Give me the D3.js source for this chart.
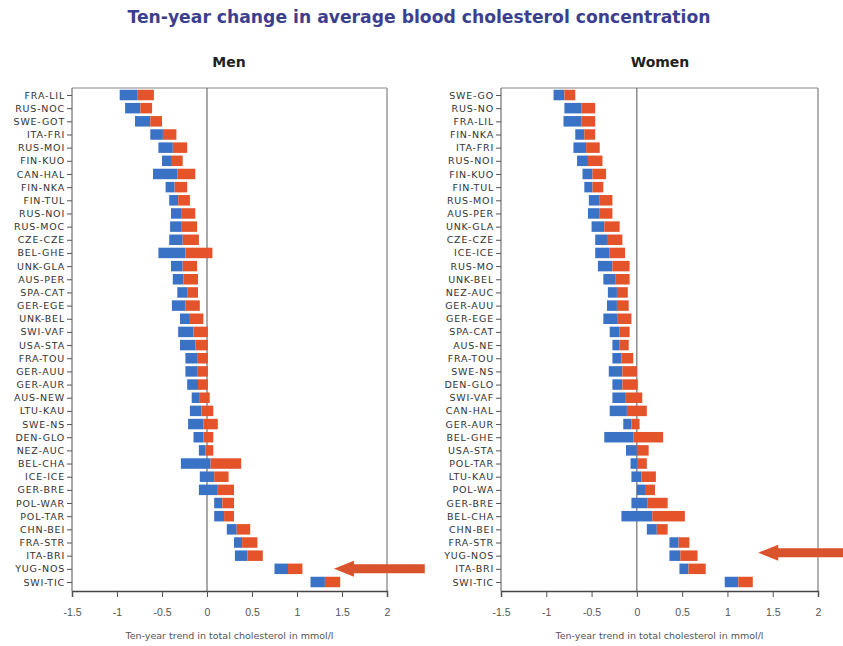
<!DOCTYPE html>
<html><head><meta charset="utf-8">
<script src="https://cdn.jsdelivr.net/npm/d3@7"></script>
<style>body{margin:0;background:#fff;font-family:"Liberation Sans",Arial,sans-serif}</style>
</head><body><svg id="c" width="843" height="646"></svg>
<script>
// Men: populations, lower bound, estimate, upper bound (mmol/l per 10 years)
const menPops = ["FRA-LIL","RUS-NOC","SWE-GOT","ITA-FRI","RUS-MOI","FIN-KUO","CAN-HAL","FIN-NKA","FIN-TUL","RUS-NOI","RUS-MOC","CZE-CZE","BEL-GHE","UNK-GLA","AUS-PER","SPA-CAT","GER-EGE","UNK-BEL","SWI-VAF","USA-STA","FRA-TOU","GER-AUU","GER-AUR","AUS-NEW","LTU-KAU","SWE-NS","DEN-GLO","NEZ-AUC","BEL-CHA","ICE-ICE","GER-BRE","POL-WAR","POL-TAR","CHN-BEI","FRA-STR","ITA-BRI","YUG-NOS","SWI-TIC"];
const menLow  = [-0.97,-0.91,-0.80,-0.63,-0.54,-0.50,-0.60,-0.46,-0.42,-0.40,-0.41,-0.42,-0.54,-0.40,-0.38,-0.33,-0.39,-0.30,-0.32,-0.30,-0.24,-0.24,-0.22,-0.17,-0.19,-0.21,-0.15,-0.09,-0.29,-0.08,-0.09,0.08,0.08,0.22,0.30,0.31,0.75,1.15];
const menEst  = [-0.77,-0.74,-0.63,-0.49,-0.38,-0.39,-0.33,-0.36,-0.32,-0.28,-0.28,-0.27,-0.24,-0.27,-0.26,-0.22,-0.24,-0.19,-0.15,-0.13,-0.11,-0.11,-0.10,-0.08,-0.06,-0.04,-0.04,-0.02,0.04,0.08,0.12,0.17,0.19,0.33,0.39,0.45,0.90,1.31];
const menHigh = [-0.59,-0.61,-0.50,-0.34,-0.22,-0.27,-0.13,-0.22,-0.19,-0.13,-0.11,-0.09,0.06,-0.11,-0.10,-0.10,-0.08,-0.04,0.01,0.01,0.01,0.01,0.01,0.03,0.07,0.12,0.07,0.07,0.38,0.24,0.30,0.30,0.30,0.48,0.56,0.62,1.06,1.48];

// Women
const womenPops = ["SWE-GO","RUS-NO","FRA-LIL","FIN-NKA","ITA-FRI","RUS-NOI","FIN-KUO","FIN-TUL","RUS-MOI","AUS-PER","UNK-GLA","CZE-CZE","ICE-ICE","RUS-MO","UNK-BEL","NEZ-AUC","GER-AUU","GER-EGE","SPA-CAT","AUS-NE","FRA-TOU","SWE-NS","DEN-GLO","SWI-VAF","CAN-HAL","GER-AUR","BEL-GHE","USA-STA","POL-TAR","LTU-KAU","POL-WA","GER-BRE","BEL-CHA","CHN-BEI","FRA-STR","YUG-NOS","ITA-BRI","SWI-TIC"];
const womenLow  = [-0.92,-0.80,-0.81,-0.68,-0.70,-0.66,-0.60,-0.58,-0.53,-0.54,-0.50,-0.46,-0.46,-0.43,-0.37,-0.32,-0.33,-0.37,-0.30,-0.27,-0.27,-0.31,-0.27,-0.27,-0.30,-0.15,-0.36,-0.12,-0.07,-0.06,0.00,-0.06,-0.17,0.11,0.36,0.36,0.47,0.97];
const womenEst  = [-0.80,-0.61,-0.61,-0.58,-0.56,-0.54,-0.49,-0.49,-0.41,-0.41,-0.36,-0.33,-0.30,-0.27,-0.24,-0.22,-0.22,-0.21,-0.19,-0.19,-0.17,-0.16,-0.16,-0.13,-0.11,-0.06,-0.04,0.00,0.01,0.05,0.09,0.12,0.17,0.22,0.46,0.48,0.57,1.12];
const womenHigh = [-0.68,-0.46,-0.46,-0.46,-0.41,-0.38,-0.34,-0.37,-0.27,-0.27,-0.19,-0.16,-0.13,-0.08,-0.08,-0.10,-0.09,-0.06,-0.08,-0.09,-0.04,0.00,0.01,0.06,0.11,0.03,0.29,0.13,0.11,0.21,0.20,0.34,0.53,0.34,0.58,0.67,0.76,1.28];

const xTicks = [-1.5,-1,-0.5,0,0.5,1,1.5,2];
const xTickLabels = ["-1.5","-1","-0.5","0","0.5","1","1.5","2"];
const titleText = "Ten-year change in average blood cholesterol concentration";
const xTitle = "Ten-year trend in total cholesterol in mmol/l";
// highlighted population (arrow annotation): from / to values on the x axis
const menArrow = {pop:"YUG-NOS", from:2.42, to:1.41};
const womenArrow = {pop:"YUG-NOS", from:2.35, to:1.34};

const BLUE = "#3a72c6", ORANGE = "#e4532a", ARROW = "#d9542c";
const svg = d3.select("#c");

svg.append("text").attr("x",419).attr("y",23).attr("text-anchor","middle")
  .attr("font-family","DejaVu Sans").attr("font-size",17.2).attr("font-weight","bold")
  .attr("fill","#3c3f8e").text(titleText);

function panel(opts){
  const {pops,low,est,high,x0,x1,title,titleX,arrow} = opts;
  const top=88, bottom=591;
  const x = d3.scaleLinear().domain([-1.5,2]).range([x0,x1]);
  const y = d3.scalePoint().domain(pops).range([95,582]);
  const g = svg.append("g");
  g.append("text").attr("x",titleX).attr("y",67).attr("text-anchor","middle")
    .attr("font-family","DejaVu Sans").attr("font-size",14).attr("font-weight","bold").attr("fill","#222").text(title);
  // frame
  g.append("line").attr("x1",x0).attr("x2",x1).attr("y1",top).attr("y2",top).attr("stroke","#888");
  g.append("line").attr("x1",x1).attr("x2",x1).attr("y1",top).attr("y2",bottom).attr("stroke","#999").attr("stroke-width",1.5);
  // zero line
  g.append("line").attr("x1",x(0)).attr("x2",x(0)).attr("y1",top).attr("y2",bottom).attr("stroke","#555").attr("stroke-width",1);
  const data = pops.map((p,i)=>({p,lo:low[i],m:est[i],hi:high[i]}));
  const h = 10.5;
  g.selectAll(".b").data(data).join("rect").attr("fill",BLUE)
    .attr("x",d=>x(d.lo)).attr("width",d=>x(d.m)-x(d.lo)).attr("y",d=>y(d.p)-h/2).attr("height",h);
  g.selectAll(".o").data(data).join("rect").attr("fill",ORANGE)
    .attr("x",d=>x(d.m)).attr("width",d=>x(d.hi)-x(d.m)).attr("y",d=>y(d.p)-h/2).attr("height",h);
  // y axis
  const ya = g.append("g").attr("transform",`translate(${x0},0)`)
    .call(d3.axisLeft(y).tickSize(5).tickPadding(2));
  ya.select(".domain").attr("stroke","#555").attr("d",`M0,${top}V${bottom}`);
  ya.selectAll(".tick line").attr("stroke","#555");
  ya.selectAll("text").attr("font-size",9.5).attr("fill","#333").attr("font-family","DejaVu Sans")
    .attr("letter-spacing",0.8);
  // x axis
  const xa = g.append("g").attr("transform",`translate(0,${bottom})`)
    .call(d3.axisBottom(x).tickValues(xTicks).tickFormat((d,i)=>xTickLabels[i]).tickSize(6).tickPadding(12));
  xa.select(".domain").attr("stroke","#444").attr("stroke-width",1.5);
  xa.selectAll(".tick line").attr("stroke","#555");
  xa.selectAll("text").attr("font-size",10.5).attr("fill","#555").attr("font-family","Liberation Sans, Arial");
  g.append("text").attr("x",(x0+x1)/2).attr("y",639).attr("text-anchor","middle")
    .attr("font-family","DejaVu Sans").attr("font-size",9.5).attr("fill","#555").text(xTitle);
  // arrow annotation
  const ay = y(arrow.pop) + (arrow.dy||0);
  const xt = x(arrow.to), xf = x(arrow.from), hl = 20, sh = 4.5, hh = 8;
  g.append("path").attr("fill",ARROW)
    .attr("d",`M${xt},${ay}L${xt+hl},${ay-hh}L${xt+hl},${ay-sh}L${xf},${ay-sh}L${xf},${ay+sh}L${xt+hl},${ay+sh}L${xt+hl},${ay+hh}Z`);
}
panel({pops:menPops,low:menLow,est:menEst,high:menHigh,x0:72,x1:387,title:"Men",titleX:229,arrow:menArrow});
panel({pops:womenPops,low:womenLow,est:womenEst,high:womenHigh,x0:501,x1:818,title:"Women",titleX:660,arrow:Object.assign({dy:-3},womenArrow)});
</script></body></html>
